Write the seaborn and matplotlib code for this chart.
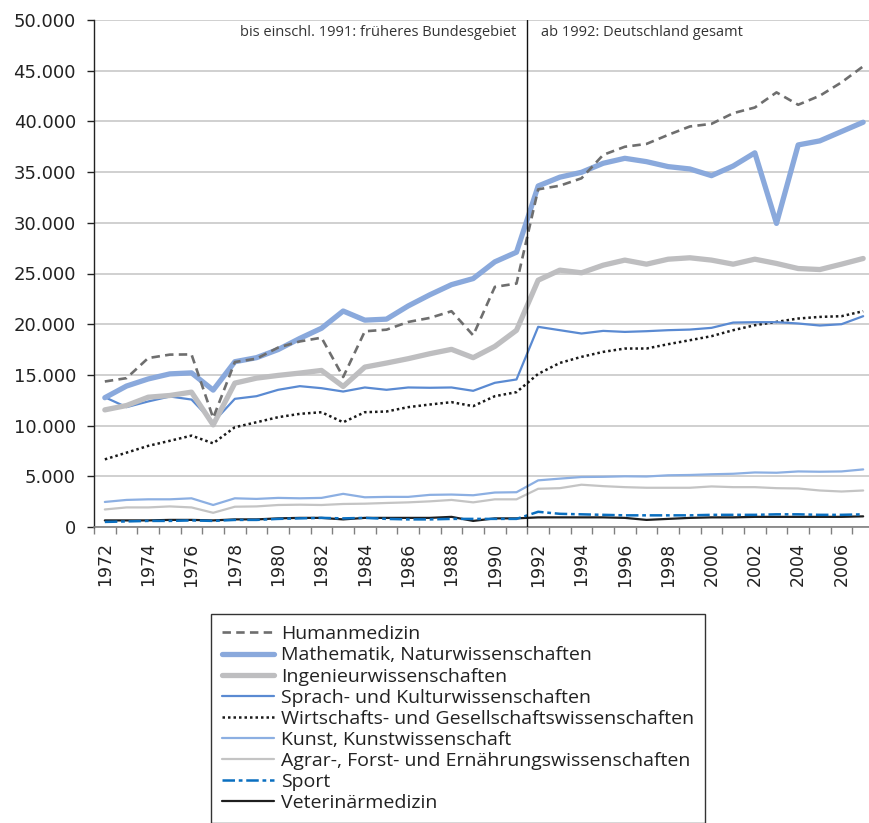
import matplotlib
matplotlib.use("Agg")
import matplotlib.pyplot as plt
import matplotlib.ticker as mticker
import seaborn as sns
import numpy as np
import pandas as pd

years = list(range(1972, 2008))

humanmedizin = [14350, 14680, 16660, 17000, 17020, 10750, 16270, 16600, 17700, 18300, 18670, 14790,
                19300, 19460, 20220, 20620, 21280, 18900, 23680, 24010, 33300, 33660, 34390, 36700,
                37500, 37780, 38670, 39500, 39760, 40810, 41370, 42860, 41640, 42530, 43850, 45430]
mathematik = [12750, 13900, 14600, 15100, 15200, 13500, 16300, 16700, 17500, 18600, 19600, 21300,
              20400, 20500, 21800, 22900, 23900, 24500, 26150, 27100, 33630, 34500, 34980, 35870,
              36360, 36030, 35540, 35310, 34650, 35600, 36900, 29940, 37680, 38080, 39000, 39920]
ingenieur = [11550, 11980, 12800, 12970, 13300, 10070, 14190, 14680, 14950, 15180, 15440, 13860,
             15770, 16170, 16600, 17090, 17520, 16700, 17810, 19400, 24340, 25330, 25070, 25820,
             26320, 25920, 26410, 26550, 26320, 25920, 26410, 25990, 25490, 25390, 25920, 26480]
sprach = [12800, 11820, 12380, 12870, 12570, 10330, 12640, 12900, 13530, 13890, 13690, 13360,
          13760, 13530, 13760, 13730, 13760, 13430, 14220, 14550, 19740, 19410, 19080, 19340,
          19240, 19310, 19410, 19470, 19640, 20160, 20200, 20200, 20070, 19870, 20000, 20790]
wirtschaft = [6670, 7330, 8000, 8500, 9010, 8250, 9840, 10330, 10830, 11160, 11320, 10330,
              11320, 11390, 11820, 12080, 12310, 11920, 12900, 13300, 15100, 16180, 16780, 17270,
              17600, 17600, 18030, 18420, 18820, 19410, 19900, 20230, 20560, 20720, 20790, 21280]
kunst = [2470, 2670, 2730, 2730, 2830, 2170, 2830, 2770, 2870, 2830, 2870, 3270,
         2930, 2970, 2970, 3170, 3200, 3130, 3400, 3430, 4600, 4770, 4930, 4950,
         5000, 4980, 5100, 5130, 5200, 5250, 5380, 5350, 5480, 5450, 5480, 5680]
agrar = [1730, 1930, 1930, 2030, 1930, 1400, 2000, 2030, 2170, 2200, 2170, 2270,
         2300, 2370, 2430, 2530, 2670, 2430, 2730, 2730, 3770, 3830, 4170, 4030,
         3930, 3870, 3870, 3870, 4000, 3930, 3930, 3830, 3800, 3600, 3500, 3600]
sport = [500, 550, 600, 600, 650, 600, 700, 700, 800, 850, 900, 850,
         900, 800, 750, 750, 800, 800, 800, 800, 1500, 1300, 1250, 1200,
         1150, 1150, 1150, 1150, 1200, 1200, 1200, 1250, 1250, 1200, 1200, 1250]
veterinaer = [650, 650, 650, 700, 700, 650, 750, 750, 850, 900, 900, 750,
              900, 900, 900, 900, 1000, 600, 850, 850, 950, 950, 950, 950,
              900, 700, 800, 900, 950, 950, 1000, 1000, 1000, 1000, 1000, 1050]

series_names = ["Humanmedizin", "Mathematik, Naturwissenschaften", "Ingenieurwissenschaften",
                "Sprach- und Kulturwissenschaften", "Wirtschafts- und Gesellschaftswissenschaften",
                "Kunst, Kunstwissenschaft", "Agrar-, Forst- und Ernährungswissenschaften",
                "Sport", "Veterinärmedizin"]
series_values = [humanmedizin, mathematik, ingenieur, sprach, wirtschaft, kunst, agrar, sport, veterinaer]

ytick_values = list(range(0, 50001, 5000))
ytick_labels = ["0"] + [f"{v:,}".replace(",", ".") for v in ytick_values[1:]]
xtick_years = list(range(1972, 2007, 2))

note_left = "bis einschl. 1991: früheres Bundesgebiet"
note_right = "ab 1992: Deutschland gesamt"

styles = {
    "Humanmedizin": dict(color="#6e6e6e", lw=1.9, ls=(0, (3.2, 2.0))),
    "Mathematik, Naturwissenschaften": dict(color="#8aa9dc", lw=3.8, ls="-"),
    "Ingenieurwissenschaften": dict(color="#bebec0", lw=3.8, ls="-"),
    "Sprach- und Kulturwissenschaften": dict(color="#5a8ad2", lw=1.6, ls="-"),
    "Wirtschafts- und Gesellschaftswissenschaften": dict(color="#1a1a1a", lw=1.8, ls=(0, (1, 1.2))),
    "Kunst, Kunstwissenschaft": dict(color="#8cafe2", lw=1.6, ls="-"),
    "Agrar-, Forst- und Ernährungswissenschaften": dict(color="#c4c4c4", lw=1.6, ls="-"),
    "Sport": dict(color="#0a6fc0", lw=1.8, ls=(0, (5, 1.5, 1.5, 1.5))),
    "Veterinärmedizin": dict(color="#1e1e1e", lw=1.6, ls="-"),
}

sns.set_theme(style="white")
plt.rcParams["font.family"] = ["DejaVu Sans"]

fig = plt.figure(figsize=(8.69, 8.23), dpi=100)
W, H = 869, 823
ax = fig.add_axes([94 / W, (H - 527) / H, (874 - 94) / W, (527 - 20) / H])

df = pd.DataFrame({"Jahr": years})
for name, vals in zip(series_names, series_values):
    df[name] = vals

for i, name in reversed(list(enumerate(series_names))):
    st = styles[name]
    sns.lineplot(data=df, x="Jahr", y=name, ax=ax, color=st["color"], linewidth=st["lw"],
                 linestyle=st["ls"], label=name, zorder=3 + (len(series_names) - i) * 0.1)

line_map = {l.get_label(): l for l in ax.get_lines()}

ax.set_xlim(1971.5, 2007.5)
ax.set_ylim(0, 50000)
ax.set_xlabel("")
ax.set_ylabel("")

ax.xaxis.set_major_locator(mticker.FixedLocator(np.arange(1971.5, 2008, 1.0)))
ax.xaxis.set_major_formatter(mticker.NullFormatter())
ax.xaxis.set_minor_locator(mticker.FixedLocator(xtick_years))
ax.xaxis.set_minor_formatter(mticker.FixedFormatter([str(y) for y in xtick_years]))
ax.tick_params(axis="x", which="major", length=5, width=1, color="#808080", direction="out", bottom=True)
ax.tick_params(axis="x", which="minor", length=0, pad=11, labelsize=12.5, labelrotation=90,
               labelcolor="#222222", bottom=True)

ax.set_yticks(ytick_values)
ax.set_yticklabels(ytick_labels)
ax.tick_params(axis="y", which="major", length=5, width=1, color="#222222", direction="out",
               pad=8, labelsize=13, labelcolor="#222222", left=True)

ax.yaxis.grid(True, color="#c8c8c8", linewidth=1.2)
ax.xaxis.grid(False)
ax.set_axisbelow(True)

for s in ["top", "right"]:
    ax.spines[s].set_visible(False)
ax.spines["left"].set_color("#222222")
ax.spines["left"].set_linewidth(1.0)
ax.spines["bottom"].set_color("#808080")
ax.spines["bottom"].set_linewidth(1.2)

ax.axvline(1991.5, color="#111111", lw=1.0, zorder=4)

ax.text(1991.0, 48800, note_left, ha="right", va="center", fontsize=10.5,
        family=["Open Sans", "DejaVu Sans"], color="#333333")
ax.text(1992.15, 48800, note_right, ha="left", va="center", fontsize=10.5,
        family=["Open Sans", "DejaVu Sans"], color="#333333")

if ax.get_legend() is not None:
    ax.get_legend().remove()
leg = fig.legend([line_map[n] for n in series_names], series_names,
                 loc="upper left", bbox_to_anchor=(211 / W, 1 - 614 / H),
                 frameon=True, fancybox=False, edgecolor="#333333", framealpha=1,
                 prop={"family": ["Open Sans", "DejaVu Sans"], "size": 14},
                 handlelength=2.65, handletextpad=0.36, labelspacing=0.16,
                 borderpad=0.58, borderaxespad=0)
leg.get_frame().set_linewidth(1.0)
for t in leg.get_texts():
    t.set_color("#222222")

fig.savefig("out.png", dpi=100)
